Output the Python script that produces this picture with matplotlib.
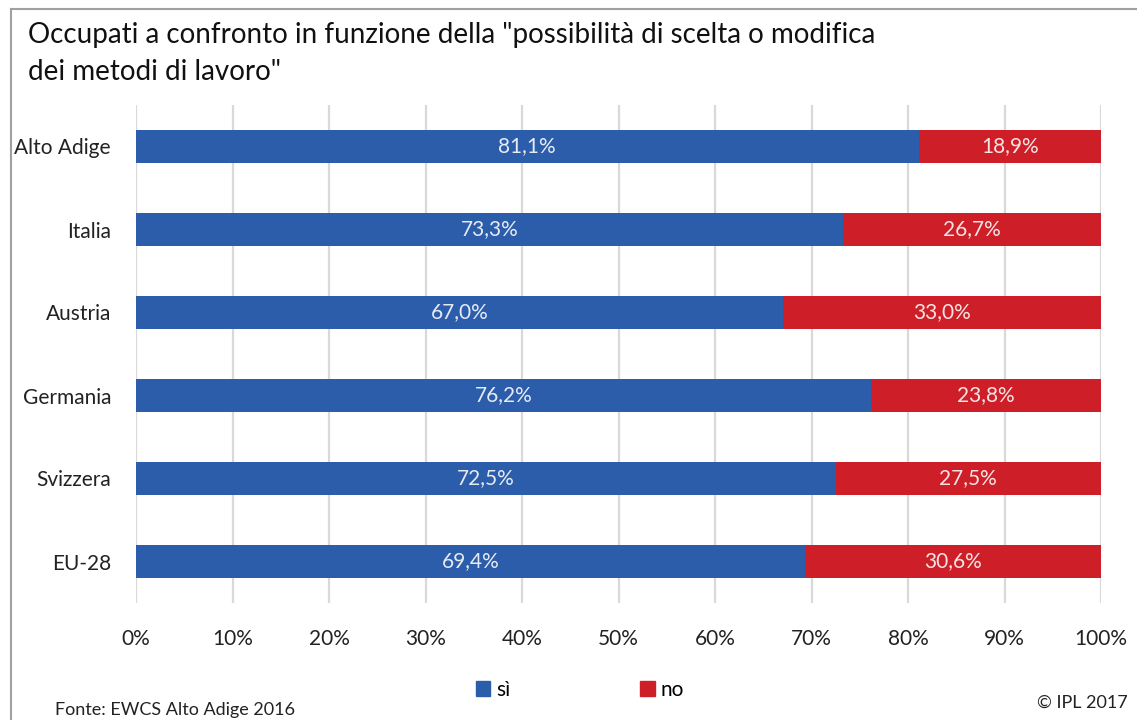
import matplotlib.pyplot as plt
from matplotlib.lines import Line2D
from matplotlib.patches import Patch

# data
paesi = ["Alto Adige", "Italia", "Austria", "Germania", "Svizzera", "EU-28"]
si = [81.1, 73.3, 67.0, 76.2, 72.5, 69.4]
no = [18.9, 26.7, 33.0, 23.8, 27.5, 30.6]
ticks = [0, 10, 20, 30, 40, 50, 60, 70, 80, 90, 100]

blu = "#2B5DAA"
rosso = "#CE1F29"
font = "Lato"

plt.rcParams["font.family"] = [font, "DejaVu Sans"]

fig = plt.figure(figsize=(11.37, 7.2), dpi=100)
ax = fig.add_axes([136 / 1137, 1 - 603 / 720, (1101 - 136) / 1137, 498 / 720])

y = list(range(len(paesi)))
ax.barh(y, si, height=0.39, color=blu, zorder=3)
ax.barh(y, no, left=si, height=0.39, color=rosso, zorder=3)

def fmt(v):
    return ("%.1f%%" % v).replace(".", ",")

for i in y:
    ax.text(si[i] / 2, i, fmt(si[i]), ha="center", va="center",
            color="#E6EBF5", fontsize=15, zorder=4)
    ax.text(si[i] + no[i] / 2, i, fmt(no[i]), ha="center", va="center",
            color="#F7E3E4", fontsize=15, zorder=4)

ax.set_ylim(len(paesi) - 0.5, -0.5)
ax.set_xlim(0, 100)
ax.set_yticks(y)
ax.set_yticklabels(paesi, fontsize=15, color="#222222")
ax.set_xticks(ticks)
ax.set_xticklabels(["%d%%" % t for t in ticks], fontsize=15, color="#222222")
ax.tick_params(axis="both", length=0)
ax.tick_params(axis="x", pad=19)
ax.tick_params(axis="y", pad=18)
ax.grid(axis="x", color="#D9D9D9", linewidth=1.6, zorder=0)
for s in ax.spines.values():
    s.set_visible(False)

fig.text(28 / 1137, 1 - 35 / 720,
         "Occupati a confronto in funzione della \"possibilità di scelta o modifica",
         fontsize=20, va="center", ha="left", color="#111111")
fig.text(28 / 1137, 1 - 72 / 720, "dei metodi di lavoro\"",
         fontsize=20, va="center", ha="left", color="#111111")

# frame lines left and top
fig.add_artist(Line2D([11 / 1137, 11 / 1137], [0, 1 - 9 / 720],
                      transform=fig.transFigure, color="#A0A0A0", linewidth=1.5))
fig.add_artist(Line2D([11 / 1137, 1], [1 - 9 / 720, 1 - 9 / 720],
                      transform=fig.transFigure, color="#A0A0A0", linewidth=1.5))

handles = [Patch(color=blu, label="sì"), Patch(color=rosso, label="no")]
fig.legend(handles=handles, loc="center", bbox_to_anchor=(580 / 1137, 1 - 690 / 720),
           ncol=2, frameon=False, fontsize=15, handlelength=0.7, handleheight=0.7,
           handletextpad=0.3, columnspacing=6.2)

fig.text(55 / 1137, 1 - 710 / 720, "Fonte: EWCS Alto Adige 2016",
         fontsize=13, va="center", ha="left", color="#222222")
fig.text(1128 / 1137, 1 - 703 / 720, "© IPL 2017",
         fontsize=13, va="center", ha="right", color="#222222")

fig.savefig("out.png", dpi=100)
